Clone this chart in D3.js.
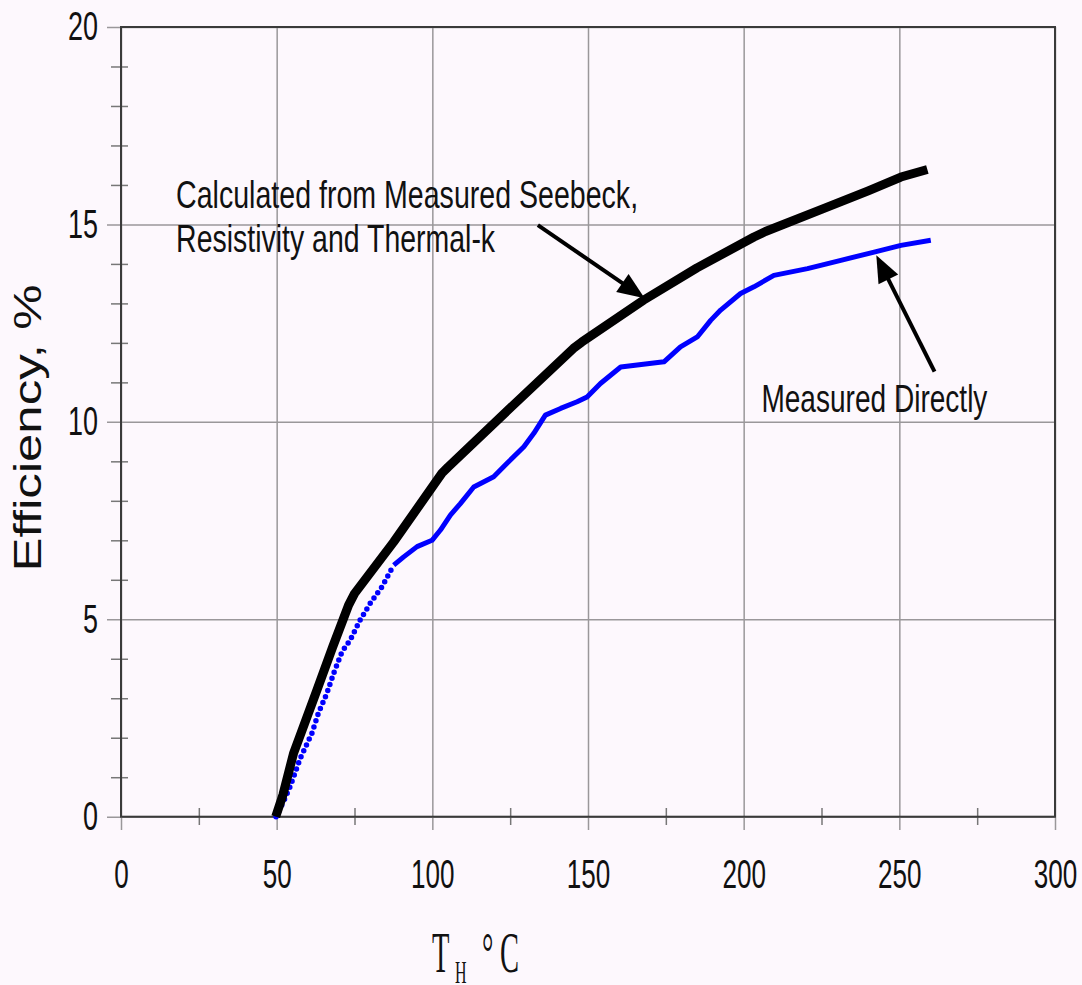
<!DOCTYPE html>
<html lang="en">
<head>
<meta charset="UTF-8">
<title>Efficiency vs TH</title>
<script src="https://cdn.jsdelivr.net/npm/d3@7"></script>
<style>
  body { margin: 0; background: #fdf8fd; }
  svg { display: block; }
</style>
</head>
<body>
<svg id="chart" width="1082" height="985"></svg>
<script>
// calculated curve (from Seebeck, resistivity, thermal-k)
const calcT = [49.7, 52, 55.4, 62.9, 68, 73.1, 75, 87.6, 103.1, 105, 125, 145.3, 148, 167.8, 185, 203.3, 207, 225, 240, 250.5, 259]
const calcEff = [0, 0.55, 1.6, 3.2, 4.3, 5.36, 5.65, 6.96, 8.7, 8.85, 10.35, 11.86, 12.02, 13.08, 13.9, 14.68, 14.82, 15.38, 15.85, 16.2, 16.39]

// measured directly
const measT = [49.8, 52, 54.3, 57.6, 61.3, 63.4, 66.1, 68.3, 71.0, 73.6, 76.8, 80.1, 83.8, 87.6, 90.8, 95.1, 99.9, 102.6, 105.8, 109.0, 113.3, 119.7, 124.0, 129.4, 132.6, 136.3, 141.2, 146.5, 149.7, 154.0, 160.5, 165.8, 174.4, 179.7, 185.1, 189.4, 192.6, 199.0, 203.3, 209.7, 220.5, 231.2, 241.9, 250.5, 260.1]
const measEff = [0, 0.35, 0.76, 1.48, 2.11, 2.62, 3.12, 3.63, 4.18, 4.47, 4.98, 5.41, 5.82, 6.37, 6.58, 6.84, 7.0, 7.26, 7.64, 7.93, 8.35, 8.61, 8.95, 9.37, 9.71, 10.17, 10.34, 10.51, 10.63, 10.97, 11.39, 11.44, 11.52, 11.9, 12.15, 12.57, 12.83, 13.25, 13.42, 13.71, 13.88, 14.09, 14.3, 14.47, 14.6]

const xTicks = [0, 50, 100, 150, 200, 250, 300]
const xMinor = [25, 75, 125, 175, 225, 275]
const yTicks = [0, 5, 10, 15, 20]
const yMinor = [1, 2, 3, 4, 6, 7, 8, 9, 11, 12, 13, 14, 16, 17, 18, 19]

let svg = d3.select("#chart")

let x = d3.scaleLinear().domain([0, 300]).range([121, 1055])
let y = d3.scaleLinear().domain([0, 20]).range([816.7, 27])

const sans = "'Liberation Sans Narrow', 'Liberation Sans', Arial, sans-serif"
const grid = "#9a979a"
const axisCol = "#3a3a3a"

// grid lines (major ticks run a little past the axes)
svg.append("g")
  .attr("transform", "translate(0,830)")
  .call(d3.axisBottom(x).tickValues(xTicks).tickSize(-803).tickFormat(""))
  .call(g => g.select(".domain").remove())
  .call(g => g.selectAll("line").attr("stroke", grid).attr("stroke-width", 1.5))

svg.append("g")
  .attr("transform", "translate(107,0)")
  .call(d3.axisLeft(y).tickValues(yTicks).tickSize(-948).tickFormat(""))
  .call(g => g.select(".domain").remove())
  .call(g => g.selectAll("line").attr("stroke", grid).attr("stroke-width", 1.5))

// minor ticks crossing the axes
svg.append("g")
  .attr("transform", "translate(0,808)")
  .call(d3.axisBottom(x).tickValues(xMinor).tickSize(17).tickFormat(""))
  .call(g => g.select(".domain").remove())
  .call(g => g.selectAll("line").attr("stroke", "#777").attr("stroke-width", 1.5))

svg.append("g")
  .attr("transform", "translate(128,0)")
  .call(d3.axisLeft(y).tickValues(yMinor).tickSize(17).tickFormat(""))
  .call(g => g.select(".domain").remove())
  .call(g => g.selectAll("line").attr("stroke", "#777").attr("stroke-width", 1.5))

// frame
svg.append("rect")
  .attr("x", x(0)).attr("y", y(20))
  .attr("width", x(300) - x(0)).attr("height", y(0) - y(20))
  .attr("fill", "none").attr("stroke", axisCol).attr("stroke-width", 2)

// tick labels
svg.append("g")
  .attr("transform", "translate(0," + y(0) + ")")
  .call(d3.axisBottom(x).tickValues(xTicks).tickSize(0).tickPadding(43))
  .call(g => g.select(".domain").remove())
  .call(g => g.selectAll("text")
    .attr("font-family", sans).attr("font-size", 40).attr("fill", "#111")
    .attr("textLength", d => String(d).length * 14.5)
    .attr("lengthAdjust", "spacingAndGlyphs"))

svg.append("g")
  .attr("transform", "translate(" + x(0) + ",0)")
  .call(d3.axisLeft(y).tickValues(yTicks).tickSize(0).tickPadding(23))
  .call(g => g.select(".domain").remove())
  .call(g => g.selectAll("text")
    .attr("font-family", sans).attr("font-size", 40).attr("fill", "#111")
    .attr("textLength", d => String(d).length * 15)
    .attr("lengthAdjust", "spacingAndGlyphs"))

// axis titles
svg.append("text")
  .attr("transform", "translate(41,428) rotate(-90)")
  .attr("text-anchor", "middle")
  .attr("font-family", "'Liberation Sans', Arial, sans-serif")
  .attr("font-size", 39)
  .attr("fill", "#111")
  .attr("textLength", 287)
  .attr("lengthAdjust", "spacingAndGlyphs")
  .text("Efficiency, %")

let xt = svg.append("text")
  .attr("transform", "translate(432,972) scale(0.5,1)")
  .attr("font-family", "'Liberation Serif', 'Times New Roman', serif")
  .attr("font-size", 57)
  .attr("fill", "#111")
xt.append("tspan").attr("x", 0).text("T")
xt.append("tspan").attr("x", 46).attr("dy", 11).attr("font-size", 32).text("H")
xt.append("tspan").attr("x", 100).attr("dy", -11).text("°")
xt.append("tspan").attr("x", 136).text("C")

// curves
let calc = calcT.map((t, i) => ({ t: t, e: calcEff[i] }))
let meas = measT.map((t, i) => ({ t: t, e: measEff[i] }))

let line = d3.line().x(d => x(d.t)).y(d => y(d.e))

svg.append("path")
  .datum(meas.filter(d => d.t <= 88))
  .attr("d", line)
  .attr("fill", "none")
  .attr("stroke", "#0000ff")
  .attr("stroke-width", 5.5)
  .attr("stroke-linecap", "round")
  .attr("stroke-dasharray", "0,6.5")

svg.append("path")
  .datum(meas.filter(d => d.t >= 87))
  .attr("d", line)
  .attr("fill", "none")
  .attr("stroke", "#0000ff")
  .attr("stroke-width", 5)
  .attr("stroke-linejoin", "round")

svg.append("path")
  .datum(calc)
  .attr("d", line)
  .attr("fill", "none")
  .attr("stroke", "#000")
  .attr("stroke-width", 9)
  .attr("stroke-linejoin", "round")

// annotations
function arrow(from, to) {
  let x1 = x(from[0]), y1 = y(from[1]), x2 = x(to[0]), y2 = y(to[1])
  let dx = x2 - x1, dy = y2 - y1, len = Math.sqrt(dx * dx + dy * dy)
  let ux = dx / len, uy = dy / len
  let hl = 27, hw = 11
  let bx = x2 - ux * hl, by = y2 - uy * hl
  svg.append("line")
    .attr("x1", x1).attr("y1", y1).attr("x2", bx + ux * 4).attr("y2", by + uy * 4)
    .attr("stroke", "#000").attr("stroke-width", 4)
  svg.append("path")
    .attr("d", "M" + x2 + "," + y2 +
      "L" + (bx - uy * hw) + "," + (by + ux * hw) +
      "L" + (bx + uy * hw) + "," + (by - ux * hw) + "Z")
    .attr("fill", "#000")
}

arrow([133.9, 14.98], [168.2, 13.13])
arrow([261.3, 11.27], [242.6, 14.22])

function label(t, e, str, w) {
  svg.append("text")
    .attr("x", x(t)).attr("y", y(e))
    .attr("font-family", sans).attr("font-size", 39).attr("fill", "#111")
    .attr("textLength", w).attr("lengthAdjust", "spacingAndGlyphs")
    .text(str)
}

label(17.7, 15.41, "Calculated from Measured Seebeck,", 462)
label(17.7, 14.3, "Resistivity and Thermal-k", 319)
label(205.7, 10.25, "Measured Directly", 226)
</script>
</body>
</html>
